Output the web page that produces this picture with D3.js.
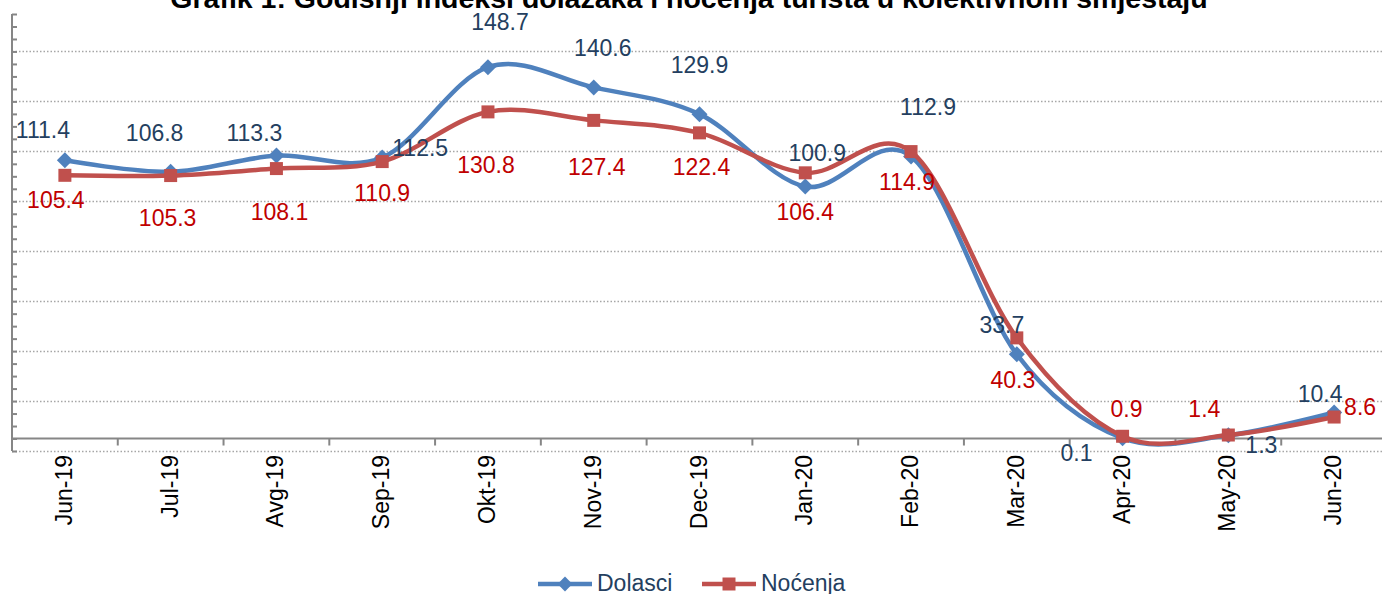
<!DOCTYPE html>
<html>
<head>
<meta charset="utf-8">
<script src="https://cdn.jsdelivr.net/npm/d3@7"></script>
<style>
  body { margin: 0; background: #fff; }
  text { font-family: "Liberation Sans", Arial, sans-serif; }
</style>
</head>
<body>
<div id="vis"></div>
<script>
// chart data
var months = ["Jun-19", "Jul-19", "Avg-19", "Sep-19", "Okt-19", "Nov-19", "Dec-19",
              "Jan-20", "Feb-20", "Mar-20", "Apr-20", "May-20", "Jun-20"];
var dolasci = [111.4, 106.8, 113.3, 112.5, 148.7, 140.6, 129.9, 100.9, 112.9, 33.7, 0.1, 1.3, 10.4];
var nocenja = [105.4, 105.3, 108.1, 110.9, 130.8, 127.4, 122.4, 106.4, 114.9, 40.3, 0.9, 1.4, 8.6];
var seriesNames = ["Dolasci", "Noćenja"];
var title = "Grafik 1: Godišnji indeksi dolazaka i noćenja turista u kolektivnom smještaju";

// label offsets (the labels were dragged by hand in the original)
var dolasciLabelOffset = [[-22, -30], [-16, -39], [-22, -23], [38, -10], [12, -45], [9, -39], [0, -49],
                          [12, -34], [17, -50], [-15, -29], [-46, 15], [33, 10], [-14, -19]];
var nocenjaLabelOffset = [[-9, 25], [-3, 42], [3, 43], [0, 31], [-2, 53], [3, 47], [2, 34],
                          [0, 39], [-4, 30], [-4, 42], [4, -27], [-24, -26], [26, -10]];

var width = 1382;
var height = 594;

var blue = "#4F81BD", red = "#C0504D";
var blueText = "#243F60", redText = "#C00000";

var svg = d3.select('#vis')
    .append('svg')
    .attr('width', width)
    .attr('height', height);

var x_scale = d3.scaleBand()
    .domain(months)
    .range([12, 1387]);

var y_scale = d3.scaleLinear()
    .domain([-5, 170])
    .range([451, 14]);

function cx(i) { return x_scale(months[i]) + x_scale.bandwidth() / 2; }

// gridlines (dotted)
svg.append('g')
    .selectAll('line')
    .data(d3.range(-5, 171, 20))
    .enter()
    .append('line')
    .attr('x1', 12)
    .attr('x2', width)
    .attr('y1', function(d) { return Math.round(y_scale(d)) + 0.5; })
    .attr('y2', function(d) { return Math.round(y_scale(d)) + 0.5; })
    .attr('stroke', '#A6A6A6')
    .attr('stroke-width', 1.3)
    .attr('stroke-dasharray', '1.5,2');

// y axis with minor ticks on the inside
var y_axis = d3.axisRight(y_scale)
    .tickValues(d3.range(-5, 171, 5))
    .tickSize(5)
    .tickFormat('');

svg.append('g')
    .attr('class', 'y axis')
    .attr('transform', 'translate(12,0)')
    .call(y_axis)
    .call(function(g) {
        g.select('.domain').attr('stroke', '#868686').attr('stroke-width', 2)
            .attr('d', 'M0,' + y_scale(170) + 'V' + y_scale(-5));
        g.selectAll('.tick line').attr('stroke', '#868686').attr('stroke-width', 2);
    });

// x axis line at zero with ticks between categories
var x0 = y_scale(0);
svg.append('line')
    .attr('x1', 12).attr('x2', width)
    .attr('y1', x0).attr('y2', x0)
    .attr('stroke', '#868686')
    .attr('stroke-width', 2);

svg.append('g')
    .selectAll('line')
    .data(months.slice(1))
    .enter()
    .append('line')
    .attr('x1', function(d) { return x_scale(d); })
    .attr('x2', function(d) { return x_scale(d); })
    .attr('y1', x0)
    .attr('y2', x0 + 7)
    .attr('stroke', '#868686')
    .attr('stroke-width', 2);

// category labels, rotated
svg.append('g')
    .selectAll('text')
    .data(months)
    .enter()
    .append('text')
    .attr('transform', function(d, i) {
        return 'translate(' + (cx(i) - 1) + ',455) rotate(-90)';
    })
    .attr('dy', '0.35em')
    .style('text-anchor', 'end')
    .style('font-size', '23px')
    .attr('fill', '#000')
    .text(function(d) { return d; });

// smooth lines
var line = d3.line()
    .x(function(d, i) { return cx(i); })
    .y(function(d) { return y_scale(d); })
    .curve(d3.curveCardinal.tension(0));

function drawSeries(values, colour, symbol, size, rotate) {
    svg.append('path')
        .datum(values)
        .attr('d', line)
        .attr('fill', 'none')
        .attr('stroke', colour)
        .attr('stroke-width', 4.5)
        .attr('stroke-linejoin', 'round');

    svg.append('g')
        .selectAll('path')
        .data(values)
        .enter()
        .append('path')
        .attr('d', d3.symbol().type(symbol).size(size))
        .attr('transform', function(d, i) {
            return 'translate(' + cx(i) + ',' + y_scale(d) + ') rotate(' + rotate + ')';
        })
        .attr('fill', colour);
}

drawSeries(dolasci, blue, d3.symbolSquare, 128, 45);
drawSeries(nocenja, red, d3.symbolSquare, 169, 0);

// data labels
function drawLabels(values, offsets, colour) {
    svg.append('g')
        .selectAll('text')
        .data(values)
        .enter()
        .append('text')
        .attr('x', function(d, i) { return cx(i) + offsets[i][0]; })
        .attr('y', function(d, i) { return y_scale(d) + offsets[i][1]; })
        .attr('dy', '0.35em')
        .style('text-anchor', 'middle')
        .style('font-size', '23px')
        .attr('fill', colour)
        .text(function(d) { return d3.format('.1f')(d); });
}

drawLabels(dolasci, dolasciLabelOffset, blueText);
drawLabels(nocenja, nocenjaLabelOffset, redText);

// title (cut off at the top as in the original)
svg.append('text')
    .attr('x', 689)
    .attr('y', 7.5)
    .style('text-anchor', 'middle')
    .style('font-size', '28.5px')
    .style('font-weight', 'bold')
    .attr('fill', '#000')
    .text(title);

// legend
var legend = svg.append('g');
var legendItems = [
    { name: seriesNames[0], colour: blue, x: 538, symbol: d3.symbolSquare, size: 110, rotate: 45 },
    { name: seriesNames[1], colour: red, x: 702, symbol: d3.symbolSquare, size: 169, rotate: 0 }
];
legendItems.forEach(function(it) {
    legend.append('line')
        .attr('x1', it.x).attr('x2', it.x + 54)
        .attr('y1', 584).attr('y2', 584)
        .attr('stroke', it.colour)
        .attr('stroke-width', 4.5);
    legend.append('path')
        .attr('d', d3.symbol().type(it.symbol).size(it.size))
        .attr('transform', 'translate(' + (it.x + 27) + ',584) rotate(' + it.rotate + ')')
        .attr('fill', it.colour);
    legend.append('text')
        .attr('x', it.x + 59)
        .attr('y', 591)
        .style('font-size', '23px')
        .attr('fill', blueText)
        .text(it.name);
});
</script>
</body>
</html>
